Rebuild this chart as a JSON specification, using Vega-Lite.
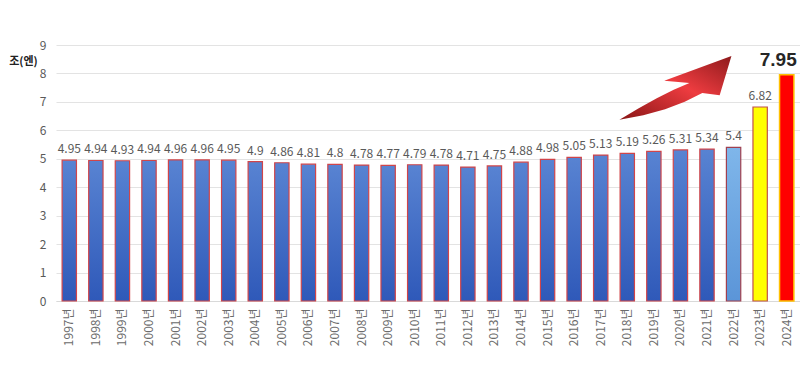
{
  "$schema": "https://vega.github.io/schema/vega-lite/v6.json",
  "autosize": "none",
  "width": 744,
  "height": 256,
  "padding": {"left": 56, "top": 45, "right": 0, "bottom": 75},
  "background": "white",
  "config": {"font": "Noto Sans CJK KR", "view": {"stroke": null}},
  "data": {"values": [
    {"year": "1997년", "v": 4.95, "kind": "a"},
    {"year": "1998년", "v": 4.94, "kind": "a"},
    {"year": "1999년", "v": 4.93, "kind": "a"},
    {"year": "2000년", "v": 4.94, "kind": "a"},
    {"year": "2001년", "v": 4.96, "kind": "a"},
    {"year": "2002년", "v": 4.96, "kind": "a"},
    {"year": "2003년", "v": 4.95, "kind": "a"},
    {"year": "2004년", "v": 4.9, "kind": "a"},
    {"year": "2005년", "v": 4.86, "kind": "a"},
    {"year": "2006년", "v": 4.81, "kind": "a"},
    {"year": "2007년", "v": 4.8, "kind": "a"},
    {"year": "2008년", "v": 4.78, "kind": "a"},
    {"year": "2009년", "v": 4.77, "kind": "a"},
    {"year": "2010년", "v": 4.79, "kind": "a"},
    {"year": "2011년", "v": 4.78, "kind": "a"},
    {"year": "2012년", "v": 4.71, "kind": "a"},
    {"year": "2013년", "v": 4.75, "kind": "a"},
    {"year": "2014년", "v": 4.88, "kind": "a"},
    {"year": "2015년", "v": 4.98, "kind": "a"},
    {"year": "2016년", "v": 5.05, "kind": "a"},
    {"year": "2017년", "v": 5.13, "kind": "a"},
    {"year": "2018년", "v": 5.19, "kind": "a"},
    {"year": "2019년", "v": 5.26, "kind": "a"},
    {"year": "2020년", "v": 5.31, "kind": "a"},
    {"year": "2021년", "v": 5.34, "kind": "a"},
    {"year": "2022년", "v": 5.4, "kind": "b"},
    {"year": "2023년", "v": 6.82, "kind": "c"},
    {"year": "2024년", "v": 7.95, "kind": "d"}
  ]},
  "encoding": {
    "x": {"field": "year", "type": "nominal", "sort": null,
      "scale": {"paddingInner": 0.46, "paddingOuter": 0.23},
      "axis": {"title": null, "labelAngle": -90, "labelAlign": "right", "labelBaseline": "middle",
        "labelColor": "#6b6b6b", "labelFontSize": 12, "ticks": false, "domain": true, "domainColor": "#d9d9d9", "labelPadding": 7}},
    "y": {"field": "v", "type": "quantitative",
      "scale": {"domain": [0, 9]},
      "axis": {"values": [0,1,2,3,4,5,6,7,8,9], "title": "조(엔)", "titleAngle": 0, "titleX": -33, "titleY": 16,
        "titleAlign": "center", "titleBaseline": "middle", "titleFontSize": 11, "titleFontWeight": "bold", "titleColor": "#222",
        "labelColor": "#595959", "labelFontSize": 12, "labelPadding": 10, "ticks": false, "domain": false,
        "gridColor": "#e3e3e3"}}
  },
  "layer": [
    {"transform": [{"filter": "datum.kind == 'a'"}],
     "mark": {"type": "bar", "stroke": "#d0454a", "strokeWidth": 1.2,
       "color": {"gradient": "linear", "x1": 0, "y1": 0, "x2": 0, "y2": 1,
         "stops": [{"offset": 0, "color": "#5883d2"}, {"offset": 1, "color": "#2f59b9"}]}}},
    {"transform": [{"filter": "datum.kind == 'b'"}],
     "mark": {"type": "bar", "stroke": "#a04050", "strokeWidth": 1.2,
       "color": {"gradient": "linear", "x1": 0, "y1": 0, "x2": 0, "y2": 1,
         "stops": [{"offset": 0, "color": "#7fb6ea"}, {"offset": 1, "color": "#5b95d8"}]}}},
    {"transform": [{"filter": "datum.kind == 'c'"}],
     "mark": {"type": "bar", "stroke": "#c0504d", "strokeWidth": 1.2, "color": "#ffff00"}},
    {"transform": [{"filter": "datum.kind == 'd'"}],
     "mark": {"type": "bar", "stroke": "#ffc000", "strokeWidth": 1.5, "color": "#ff0000"}},
    {"transform": [{"filter": "datum.kind != 'd'"}],
     "mark": {"type": "text", "baseline": "bottom", "dy": -4, "fontSize": 12, "color": "#595959"},
     "encoding": {"text": {"field": "v", "type": "quantitative"}}},
    {"transform": [{"filter": "datum.kind == 'd'"}],
     "mark": {"type": "text", "baseline": "bottom", "align": "right", "dx": 10, "dy": -5, "fontSize": 19, "fontWeight": "bold", "color": "#262626", "font": "Liberation Sans"},
     "encoding": {"text": {"field": "v", "type": "quantitative", "format": ".2f"}}},
    {"data": {"values": [{"year": "2020년", "v": 7.49}]},
     "mark": {"type": "point", "filled": true, "opacity": 1, "xOffset": -5, "strokeWidth": 0,
       "shape": "M-1,0.57 L-0.655,0.364 L-0.333,0.185 L-0.031,0.034 L0.25,-0.09 L-0.2,-0.13 L1,-0.57 L0.79,0.13 L0.48,0.09 L0.166,0.247 L-0.185,0.38 L-0.574,0.487 Z",
       "size": 12544,
       "color": {"gradient": "linear", "x1": 0, "y1": 1, "x2": 1, "y2": 0,
         "stops": [{"offset": 0, "color": "#8a1616"}, {"offset": 0.55, "color": "#ee3c40"}, {"offset": 1, "color": "#8e1a1c"}]}}}
  ]
}
